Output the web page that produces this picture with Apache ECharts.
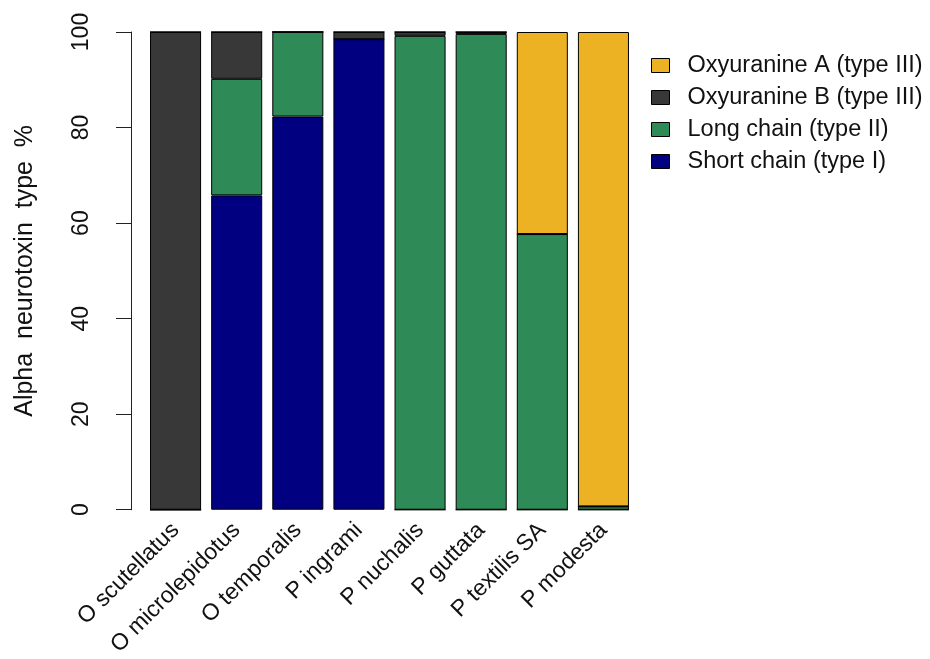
<!DOCTYPE html>
<html><head><meta charset="utf-8">
<script src="https://cdn.jsdelivr.net/npm/echarts@6/dist/echarts.min.js"></script>
<style>html,body{margin:0;padding:0;background:#fff}#c{width:930px;height:659px}</style>
</head><body><div id="c"></div>
<script>
var categories = ["O scutellatus","O microlepidotus","O temporalis","P ingrami","P nuchalis","P guttata","P textilis SA","P modesta"];
var shortChain = [0, 65.8, 82.3, 98.5, 0, 0, 0, 0];
var longChain  = [0, 24.4, 17.7, 0, 99.2, 99.6, 57.7, 0.7];
var oxyB       = [100, 9.8, 0, 1.5, 0.8, 0.4, 0, 0];
var oxyA       = [0, 0, 0, 0, 0, 0, 42.3, 99.3];
var yTicks = [0, 20, 40, 60, 80, 100];

var font = "'Liberation Sans', Arial, sans-serif";
var chart = echarts.init(document.getElementById('c'), null, {renderer:'canvas'});
function s(name, data, color){
  return {name:name, type:'bar', stack:'all', data:data, barWidth:'83.5%',
    itemStyle:{color:color, borderColor:'#000', borderWidth:1}, animation:false};
}
chart.setOption({
  animation:false,
  grid:{left:145, right:296, top:32, bottom:147},
  legend:{
    orient:'vertical', left:646, top:47, itemWidth:18, itemHeight:14, itemGap:5,
    icon:'rect',
    data:['Oxyuranine A (type III)','Oxyuranine B (type III)','Long chain (type II)','Short chain (type I)'],
    textStyle:{fontFamily:font, fontSize:23.5, color:'#111', padding:[0,0,0,13], lineHeight:27},
    itemStyle:{borderColor:'#000', borderWidth:1}
  },
  xAxis:{type:'category', data:categories,
    axisLine:{show:false}, axisTick:{show:false},
    axisLabel:{rotate:45, fontFamily:font, fontSize:23, color:'#111', margin:17, interval:0}
  },
  yAxis:{type:'value', min:0, max:100, interval:20, offset:14,
    name:'Alpha  neurotoxin  type  %', nameLocation:'middle', nameGap:93, nameRotate:90,
    nameTextStyle:{fontFamily:font, fontSize:25, color:'#111'},
    axisLine:{show:true, lineStyle:{color:'#222', width:1}},
    axisTick:{show:true, length:15, lineStyle:{color:'#222'}},
    axisLabel:{rotate:90, fontFamily:font, fontSize:23, color:'#111', margin:38,
      formatter:function(v){return yTicks.indexOf(v)>=0 ? String(v) : '';}},
    splitLine:{show:false}
  },
  series:[
    s('Short chain (type I)', shortChain, '#000080'),
    s('Long chain (type II)', longChain, '#2e8b57'),
    s('Oxyuranine B (type III)', oxyB, '#383838'),
    s('Oxyuranine A (type III)', oxyA, '#ecb223')
  ]
});
</script></body></html>
